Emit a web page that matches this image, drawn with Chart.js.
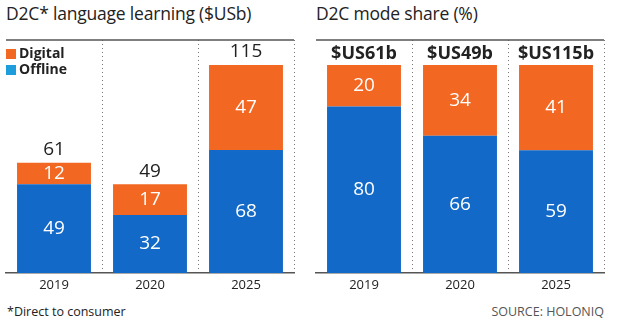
<!DOCTYPE html>
<html>
<head>
<meta charset="utf-8">
<script src="https://cdn.jsdelivr.net/npm/chart.js@4/dist/chart.umd.min.js"></script>
<style>
  body { margin: 0; background: #fff; font-family: "Open Sans", sans-serif; }
  #wrap { position: relative; width: 620px; height: 329px; overflow: hidden; }
  .title { position: absolute; top: 1px; font-size: 17.5px; color: #222; letter-spacing: -0.2px; }
  .legend { position: absolute; left: 6px; top: 45px; font-size: 14px; font-weight: 700; color: #222; line-height: 16px; }
  .legend span { display: inline-block; width: 10px; height: 10px; margin-right: 3px; vertical-align: -1px; }
  .note { position: absolute; top: 303px; font-size: 12.5px; color: #222; }
  canvas { position: absolute; top: 0; }
</style>
</head>
<body>
<div id="wrap">
  <div class="title" style="left:6px">D2C* language learning ($USb)</div>
  <div class="title" style="left:316px">D2C mode share (%)</div>
  <canvas id="market" width="310" height="300" style="left:0"></canvas>
  <canvas id="share" width="310" height="300" style="left:310px"></canvas>
  <div class="legend">
    <div><span style="background:#f26722"></span>Digital</div>
    <div><span style="background:#1e9ddc"></span>Offline</div>
  </div>
  <div class="note" style="left:7px">*Direct to consumer</div>
  <div class="note" style="right:16px;color:#555">SOURCE: HOLONIQ</div>
</div>
<script>
// market size, $US billions
const years = ['2019', '2020', '2025'];
const offline = [49, 32, 68];
const digital = [12, 17, 47];
const totals = [61, 49, 115];

// share of each year's market, per cent
const offlineShare = [80, 66, 59];
const digitalShare = [20, 34, 41];
const totalLabels = ['$US61b', '$US49b', '$US115b'];

const ORANGE = '#f26722';
const BLUE = '#1269c7';
const LINE = '#555';

// top rule, segment values inside bars, totals above
function labelsPlugin(tops) {
  return {
    id: 'barLabels',
    afterDatasetsDraw(chart) {
      const ctx = chart.ctx;
      const area = chart.chartArea;
      ctx.save();
      ctx.strokeStyle = LINE;
      ctx.lineWidth = 1.5;
      ctx.beginPath();
      ctx.moveTo(area.left, area.top);
      ctx.lineTo(area.right, area.top);
      ctx.stroke();

      ctx.textAlign = 'center';
      ctx.textBaseline = 'middle';
      ctx.fillStyle = '#fff';
      ctx.font = '19px "Open Sans"';
      chart.data.datasets.forEach((ds, di) => {
        chart.getDatasetMeta(di).data.forEach((bar, i) => {
          const mid = (bar.y + bar.base) / 2;
          ctx.fillText(ds.data[i], bar.x, mid);
        });
      });

      const topMeta = chart.getDatasetMeta(chart.data.datasets.length - 1);
      ctx.fillStyle = '#222';
      ctx.font = tops.font;
      topMeta.data.forEach((bar, i) => {
        ctx.fillText(tops.text[i], bar.x, bar.y - tops.gap);
      });
      ctx.restore();
    }
  };
}

function makeChart(id, low, high, max, tops) {
  return new Chart(document.getElementById(id), {
    type: 'bar',
    data: {
      labels: years,
      datasets: [
        { label: 'Offline', data: low, backgroundColor: BLUE },
        { label: 'Digital', data: high, backgroundColor: ORANGE }
      ]
    },
    options: {
      responsive: false,
      animation: false,
      layout: { padding: { top: 40, left: 6, right: 16, bottom: 0 } },
      barPercentage: 0.77,
      categoryPercentage: 1,
      plugins: { legend: { display: false }, tooltip: { enabled: false } },
      scales: {
        x: {
          stacked: true,
          afterFit: s => { s.height = 27; },
          // dotted separators between years
          border: { color: LINE, width: 1.5, dash: [1, 3] },
          grid: {
            offset: true,
            drawTicks: false,
            color: c => (c.index === 0 || c.index === years.length) ? 'rgba(0,0,0,0)' : '#777'
          },
          ticks: { color: '#222', padding: 4, font: { family: 'Open Sans', size: 13 } }
        },
        y: {
          stacked: true,
          display: false,
          min: 0,
          max: max
        }
      }
    },
    plugins: [labelsPlugin(tops)]
  });
}

makeChart('market', offline, digital, 128.8, { text: totals, font: '500 19px "Open Sans"', gap: 13 });
makeChart('share', offlineShare, digitalShare, 112, { text: totalLabels, font: 'bold 18px "Open Sans"', gap: 11 });
</script>
</body>
</html>
